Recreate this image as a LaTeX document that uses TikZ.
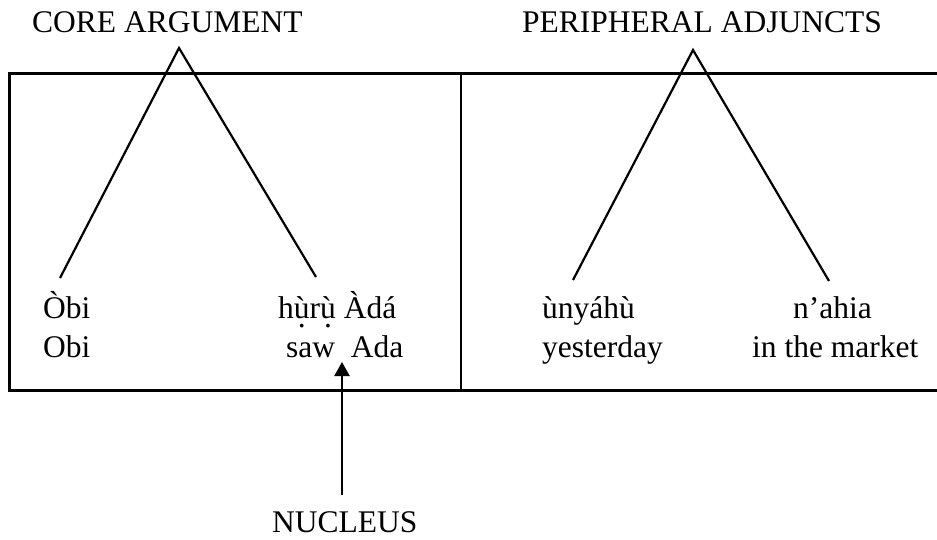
\documentclass[tikz,border=0pt]{standalone}
\usepackage{fontspec}
\setmainfont{Liberation Serif}
\usetikzlibrary{arrows.meta}
\newcommand\dotgraveu{\ooalign{ù\cr\hidewidth\raisebox{-0.3em}{.}\hidewidth\cr}}
\begin{document}
\begin{tikzpicture}[x=1pt,y=-1pt,
  lbl/.style={inner sep=0pt,anchor=base west,font=\fontsize{31.5}{37}\selectfont},
  leg/.style={line width=2.2pt},
  boxline/.style={line width=3pt}]
\useasboundingbox (0,0) rectangle (937,539);
% box (open on right)
\coordinate (tr) at (937,73);
\coordinate (tl) at (9,73);
\coordinate (bl) at (9,390);
\coordinate (br) at (937,390);
\coordinate (dt) at (461,73);
\coordinate (db) at (461,390);
\draw[boxline] (tr) -- (tl) -- (bl) -- (br);
\draw[line width=2pt] (dt) -- (db);
% labels
\node[lbl] (core) at (32,32) {CORE ARGUMENT};
\node[lbl] (peri) at (522,32) {PERIPHERAL ADJUNCTS};
\node[lbl] (obi1) at (43,318) {Òbi};
\node[lbl] (obi2) at (43,357) {Obi};
\node[lbl] (huru) at (278,318) {h\dotgraveu r\dotgraveu{} Àdá};
\node[lbl] (saw) at (286,357) {saw\ \ Ada};
\node[lbl] (unya) at (542,318) {ùnyáhù};
\node[lbl] (yest) at (542,357) {yesterday};
\node[lbl] (nahia) at (793,318) {n’ahia};
\node[lbl] (mkt) at (752,357) {in the market};
\node[lbl] (nuc) at (272,532) {NUCLEUS};
% triangles
\coordinate (capex) at (179,48);
\coordinate (cl) at (60,278);
\coordinate (cr) at (316,277);
\draw[leg] (cl) -- (capex) -- (cr);
\coordinate (papex) at (693,50);
\coordinate (pl) at (573,280);
\coordinate (pr) at (829,281);
\draw[leg] (pl) -- (papex) -- (pr);
% arrow
\coordinate (as) at (342,495);
\coordinate (at) at (342,362);
\draw[line width=2.2pt,-{Triangle[length=14pt,width=15pt]}] (as) -- (at);
\end{tikzpicture}
\end{document}
